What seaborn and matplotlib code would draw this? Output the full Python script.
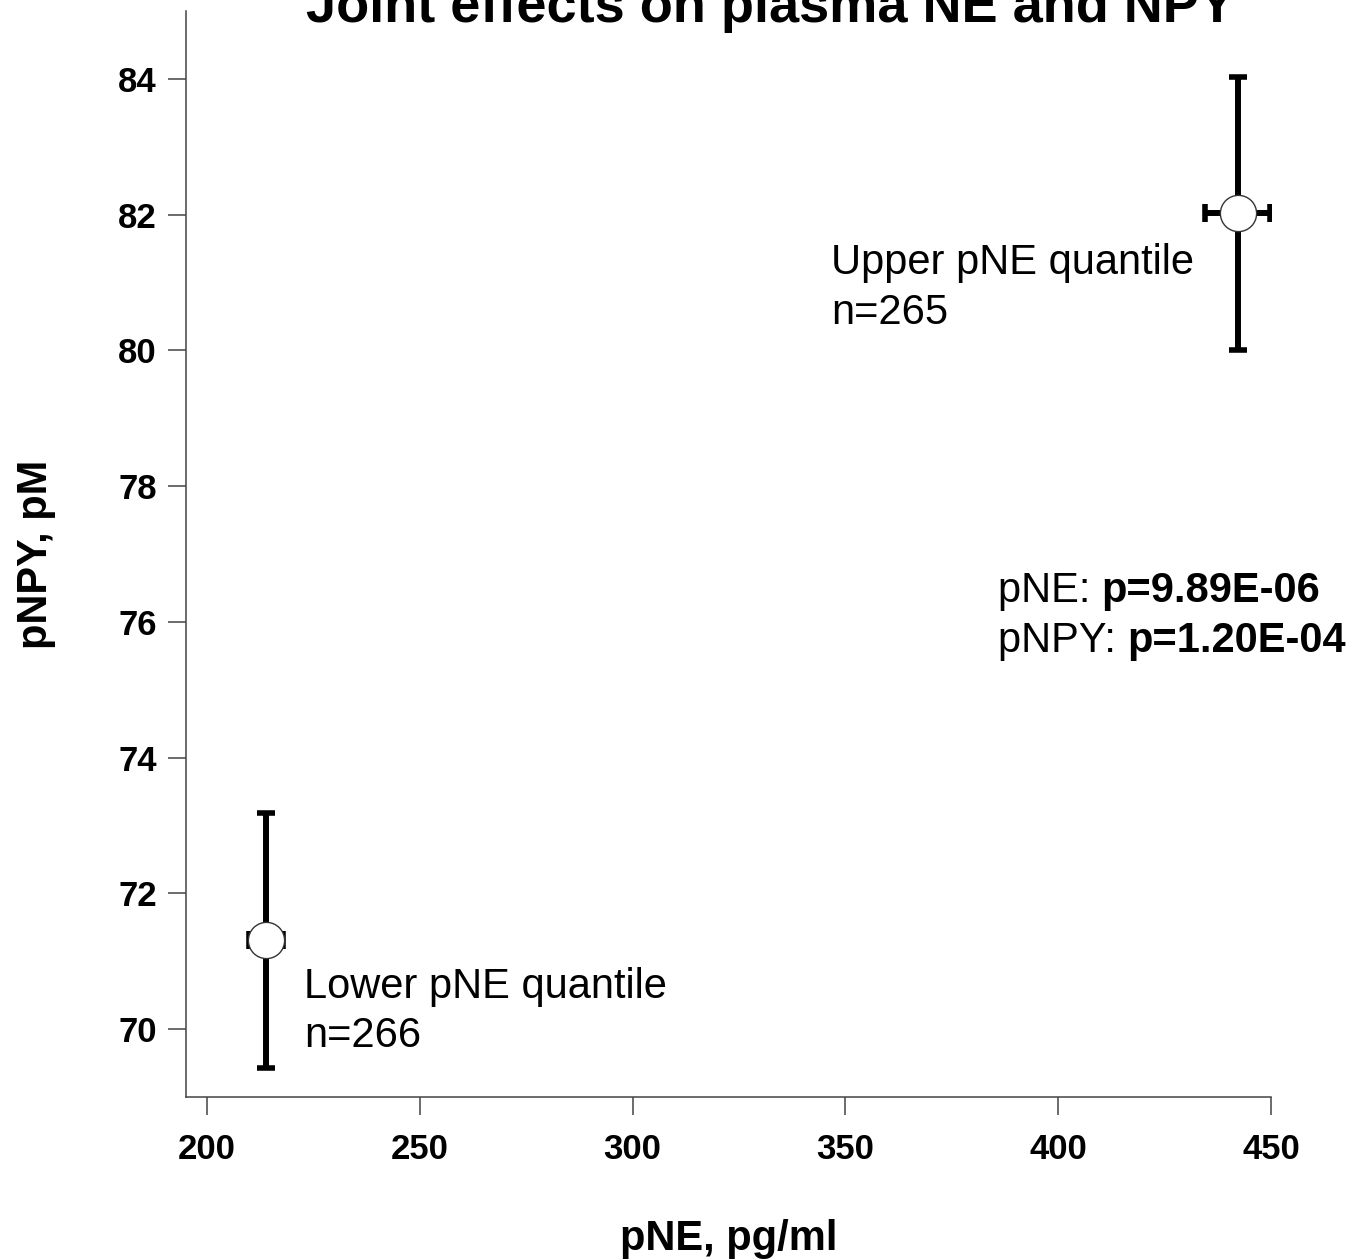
import matplotlib
matplotlib.use("Agg")
import matplotlib.pyplot as plt
import seaborn as sns
import pandas as pd

# ---- data ----
groups = ["Lower pNE quantile", "Upper pNE quantile"]
n_obs = [266, 265]
pne_mean = [213.9, 442.2]
pne_err = [4.0, 7.6]
pnpy_mean = [71.31, 82.02]
pnpy_err = [1.88, 2.01]
x_ticks = [200, 250, 300, 350, 400, 450]
y_ticks = [70, 72, 74, 76, 78, 80, 82, 84]
p_labels = ["pNE: ", "pNPY: "]
p_values = ["p=9.89E-06", "p=1.20E-04"]

df = pd.DataFrame({"group": groups, "n": n_obs, "pNE": pne_mean,
                   "pNE_err": pne_err, "pNPY": pnpy_mean, "pNPY_err": pnpy_err})

sns.set_theme(style="ticks")
plt.rcParams["font.family"] = ["Liberation Sans", "DejaVu Sans"]
plt.rcParams["text.color"] = "black"
plt.rcParams["axes.labelcolor"] = "black"

fig = plt.figure(figsize=(13.71, 12.6), dpi=100)
ax = fig.add_axes([186 / 1371, 1 - 1097 / 1260, (1271 - 186) / 1371, (1097 - 11) / 1260])

ax.errorbar(df["pNE"], df["pNPY"], xerr=df["pNE_err"], yerr=df["pNPY_err"],
            fmt="none", ecolor="black", elinewidth=4.3, capsize=6.5, capthick=4.0, zorder=2)
sns.scatterplot(data=df, x="pNE", y="pNPY", ax=ax, s=680, marker="o",
                color="white", edgecolor="#333333", linewidth=1.0, zorder=3, legend=False)

ax.set_xlim(195.1, 450.0)
ax.set_ylim(69.0, 85.0)
ax.set_xticks(x_ticks)
ax.set_yticks(y_ticks)
ax.tick_params(axis="both", direction="out", length=13, width=1.1, color="#444444",
               labelcolor="black", labelsize=25)
ax.tick_params(axis="x", pad=13)
ax.tick_params(axis="y", pad=8)
for lab in ax.get_xticklabels() + ax.get_yticklabels():
    lab.set_fontweight("bold")
for s in ["top", "right"]:
    ax.spines[s].set_visible(False)
for s in ["left", "bottom"]:
    ax.spines[s].set_color("#444444")
    ax.spines[s].set_linewidth(1.1)

ax.set_xlabel("pNE, pg/ml", fontsize=30, fontweight="bold", labelpad=38)
ax.set_ylabel("pNPY, pM", fontsize=30, fontweight="bold", labelpad=45)

# group annotations
ax.text(222.8, 70.26, f"{groups[0]}\nn={n_obs[0]}", fontsize=30, va="center",
        ha="left", linespacing=1.3)
ax.text(346.6, 80.92, f"{groups[1]}\nn={n_obs[1]}", fontsize=30, va="center",
        ha="left", linespacing=1.3)

# p-values
ys = [76.45, 75.72]
for lab, pv, yy in zip(p_labels, p_values, ys):
    t = ax.text(385.8, yy, lab, fontsize=30, va="center", ha="left")
    ax.annotate(pv, xy=(1, 0), xycoords=t, va="bottom", ha="left",
                fontsize=30, fontweight="bold")

fig.text(770 / 1371, 1 - 22 / 1260, "Joint effects on plasma NE and NPY",
         fontsize=39, fontweight="bold", ha="center", va="baseline")

fig.savefig("out.png", dpi=100, facecolor="white")
